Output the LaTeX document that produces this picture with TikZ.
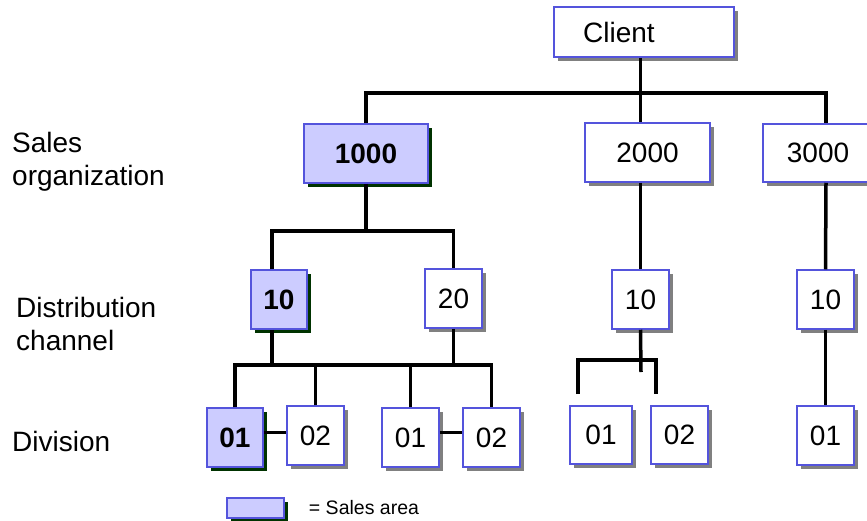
\documentclass[tikz,border=0pt]{standalone}
\usepackage{fontspec}
\setmainfont{Liberation Sans}
\usetikzlibrary{positioning,shadows}
\definecolor{boxblue}{RGB}{84,84,220}
\definecolor{arealilac}{RGB}{204,204,255}
\definecolor{greenshadow}{RGB}{0,51,0}
\definecolor{greyshadow}{RGB}{128,128,128}

\begin{document}
\begin{tikzpicture}[x=1pt,y=-1pt,
                    orgbox/.style={draw=boxblue,line width=1.5pt,fill=white,inner sep=0pt,minimum width=57pt,minimum height=59pt,font={\fontsize{28}{32}\selectfont}},
                    plainbox/.style={orgbox,drop shadow={shadow xshift=4pt,shadow yshift=-4pt,fill=greyshadow,opacity=1}},
                    areabox/.style={orgbox,fill=arealilac,font={\fontsize{28}{32}\selectfont\bfseries},drop shadow={shadow xshift=4pt,shadow yshift=-4pt,fill=greenshadow,opacity=1}},
                    levelname/.style={anchor=base west,align=left,inner sep=0pt,font={\fontsize{28}{32.5}\selectfont}},
                    conn/.style={line width=3.5pt}]
  \useasboundingbox (0,0) rectangle (867,520);
  \clip (0,0) rectangle (867,520);
  \node[levelname] (lvl-so) at (12,185) {Sales\\organization};
  \node[levelname] (lvl-dc) at (16,350) {Distribution\\channel};
  \node[levelname] (lvl-dv) at (12,451) {Division};
  \node[plainbox,minimum width=180pt,minimum height=50pt] (client) at (644,32) {Client\hspace*{50pt}};
  \node[areabox,minimum width=124pt] (so1000) at (366,153.5) {1000};
  \node[plainbox,minimum width=125pt] (so2000) at (647.5,152.5) {2000};
  \node[plainbox,minimum width=126pt,minimum height=58pt] (so3000) at (826,153) {3000\hspace*{16pt}};
  \node[areabox,minimum width=56pt] (dc10) at (279,299.5) {10};
  \node[plainbox] (dc20) at (453.5,298.5) {20};
  \node[plainbox] (dc10b) at (640.5,299.5) {10};
  \node[plainbox] (dc10c) at (825.5,299.5) {10};
  \node[areabox,minimum width=56pt] (dv01a) at (235,437.5) {01};
  \node[plainbox] (dv02a) at (315.5,435.5) {02};
  \node[plainbox] (dv01b) at (410.5,437.5) {01};
  \node[plainbox] (dv02b) at (491.5,437.5) {02};
  \node[plainbox,minimum width=62pt,minimum height=58pt] (dv01c) at (601,435) {01};
  \node[plainbox,minimum height=58pt] (dv02c) at (679.5,435) {02};
  \node[plainbox] (dv01d) at (825.5,435.5) {01};
  \node[areabox,minimum height=20pt] (legend) at (255.5,508) {};
  \node[inner sep=0pt,font={\fontsize{19.5}{22}\selectfont}] (legend-text) [right=24pt of legend] {= Sales area};
  \coordinate (bus1) at (0,93);
  \coordinate (bus2) at (0,231);
  \coordinate (bus3) at (0,365);
  \coordinate (stub) at (641,372);
  \coordinate (fork-l) at (578,394);
  \coordinate (fork-r) at (656,394);
  \draw[conn] (so1000.north) |- (bus1 -| so3000.north) -- (so3000.north);
  \draw[conn] (client.south -| dc10b) -- (so2000.north -| dc10b);
  \draw[conn] (so2000.south -| dc10b) -- (dc10b.north);
  \draw[conn] (so3000.south) -- (dc10c.north);
  \draw[conn] (so1000.south) -- (so1000.south |- bus2);
  \draw[conn] ([xshift=-7pt]dc10.north) |- (bus2 -| dc20.north) -- (dc20.north);
  \draw[conn] ([xshift=-7pt]dc10.south) -- ([xshift=-7pt]dc10.south |- bus3);
  \draw[conn] (dc20.south) -- (dc20.south |- bus3);
  \draw[conn] (dv01a.north) |- (bus3 -| dv02b.north) -- (dv02b.north);
  \draw[conn] (dv02a.north) -- (dv02a.north |- bus3);
  \draw[conn] (dv01b.north) -- (dv01b.north |- bus3);
  \draw[conn] ([yshift=5pt]dv01a.east) -- ([yshift=5pt]dv01a.east -| dv02a.west);
  \draw[conn] ([yshift=5pt]dv01b.east) -- ([yshift=5pt]dv01b.east -| dv02b.west);
  \draw[conn] (dc10b.south) -- (stub);
  \draw[conn] (fork-l) -- ++(0,-34) -| (fork-r);
  \draw[conn] (dc10c.south) -- (dv01d.north);
\end{tikzpicture}
\end{document}
